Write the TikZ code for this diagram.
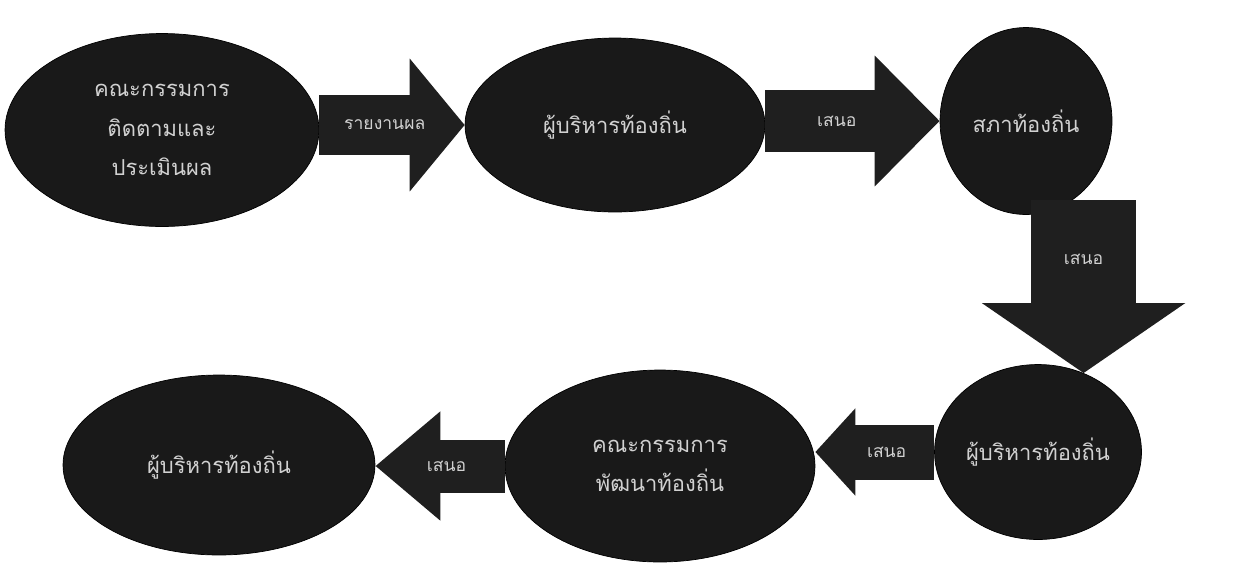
\documentclass[tikz,border=0pt]{standalone}
\usepackage{fontspec}
\newfontfamily\thaifont[Script=Thai]{Loma}
\usepackage{xcolor}
\usepackage{tikz}
\usetikzlibrary{positioning,calc,arrows.meta,shapes.geometric}

\begin{document}
\begin{tikzpicture}[
					x=0.02cm, y=-0.02cm,
					every node/.style={
						font=\thaifont\fontsize{12.5}{22.5}\selectfont,
						text=white!82!black, align=center
					},
					oval/.style 2 args={
						ellipse, fill=black!90, draw=black,
						inner sep=0pt, minimum width=#1, minimum height=#2
					},
					flow/.style n args={3}{
						draw=black!88, line width=#1,
						-{Triangle[length=#2, width=#3]}
					},
					flowtext/.style={font=\thaifont\fontsize{10}{12}\selectfont}
					]
					\useasboundingbox (0,0) rectangle (1239,579);
					
					% top row
					\node[oval={6.28cm}{3.86cm}] (e1) at (162,130) {คณะกรรมการ\\ติดตามและ\\ประเมินผล};
					\node[oval={6.0cm}{3.48cm}] (e2) at (615,125) {ผู้บริหารท้องถิ่น};
					\node[oval={3.44cm}{3.74cm}] (e3) at (1026,121) {สภาท้องถิ่น};
					
					% bottom row
					\node[oval={4.14cm}{3.5cm}] (e4) at (1038,452) {ผู้บริหารท้องถิ่น};
					\node[oval={6.2cm}{3.84cm}] (e5) at (660,466) {คณะกรรมการ\\พัฒนาท้องถิ่น};
					\node[oval={6.24cm}{3.6cm}] (e6) at (219,465) {ผู้บริหารท้องถิ่น};
					
					% block arrows
					\draw[flow={1.2cm}{1.1cm}{2.6cm}] (e1.east |- e2.west) -- node[pos=0.45, flowtext] {รายงานผล} (e2.west);
					\draw[flow={1.24cm}{1.3cm}{2.54cm}] (e2.east |- e3.west) -- node[pos=0.41, flowtext] {เสนอ} (e3.west);
					\draw[flow={2.1cm}{1.4cm}{4.0cm}] (e3.-60 -| e4.60) -- node[pos=0.34, flowtext] {เสนอ} (e4.60);
					\draw[flow={1.1cm}{0.8cm}{1.7cm}] (e4.west) -- node[pos=0.4, flowtext] {เสนอ} (e4.west -| e5.east);
					\draw[flow={1.06cm}{1.3cm}{2.1cm}] (e5.west) -- node[pos=0.45, flowtext] {เสนอ} (e5.west -| e6.east);
				\end{tikzpicture}
\end{document}
